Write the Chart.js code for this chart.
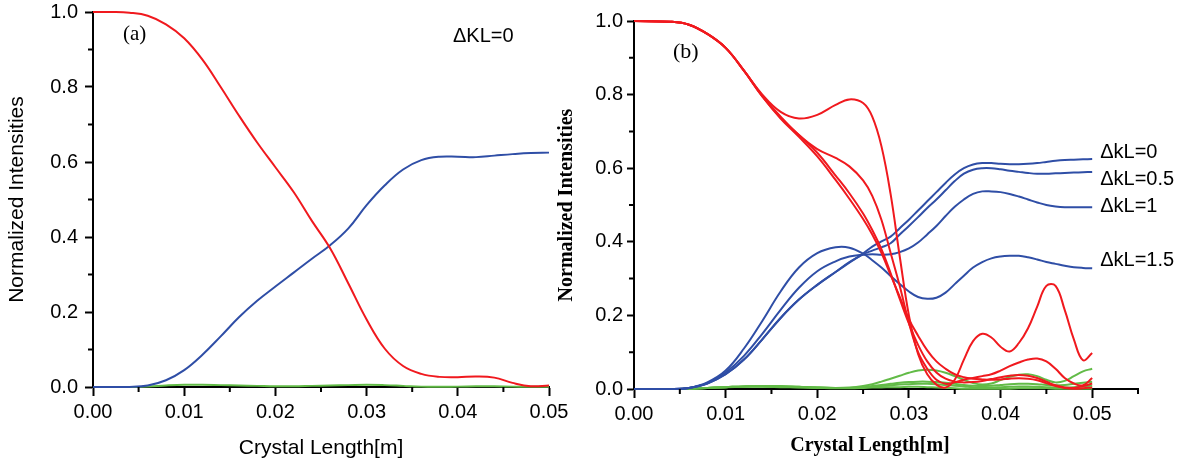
<!DOCTYPE html>
<html lang="en">
<head>
<meta charset="UTF-8">
<title>Normalized Intensities vs Crystal Length</title>
<script src="https://cdn.jsdelivr.net/npm/chart.js"></script>
<style>
  body { margin: 0; background: #fff; }
  #wrap { position: relative; width: 1190px; height: 466px; }
  canvas { position: absolute; top: 0; }
  #chartA { left: 0; }
  #chartB { left: 545px; }
</style>
</head>
<body>
<div id="wrap">
  <canvas id="chartA" width="600" height="466"></canvas>
  <canvas id="chartB" width="645" height="466"></canvas>
</div>
<script>
// ---- panel (a): dKL = 0 ----
const xA = [0, 0.002, 0.004, 0.006, 0.008, 0.010, 0.012, 0.014, 0.016, 0.018, 0.020, 0.022, 0.024,
            0.026, 0.028, 0.030, 0.032, 0.034, 0.036, 0.038, 0.040, 0.042, 0.044, 0.046, 0.048, 0.050];
const redA = [1.0, 1.0, 0.998, 0.99, 0.967, 0.93, 0.873, 0.80, 0.724, 0.652, 0.586, 0.52, 0.443,
              0.37, 0.276, 0.18, 0.102, 0.056, 0.035, 0.027, 0.026, 0.028, 0.025, 0.011, 0.002, 0.004];
const blueA = [0, 0, 0, 0.004, 0.018, 0.045, 0.086, 0.135, 0.186, 0.23, 0.268, 0.305, 0.342,
               0.378, 0.423, 0.485, 0.538, 0.58, 0.605, 0.614, 0.614, 0.613, 0.617, 0.621, 0.624, 0.625];
const greenA = [0, 0, 0, 0.001, 0.004, 0.006, 0.006, 0.005, 0.004, 0.003, 0.002, 0.002, 0.003,
                0.004, 0.005, 0.006, 0.005, 0.003, 0.001, 0.001, 0.001, 0.002, 0.002, 0.001, 0.001, 0.001];

// ---- panel (b): dkL = 0, 0.5, 1, 1.5 ----
const xB = [0, 0.004, 0.006, 0.008, 0.010, 0.012, 0.014, 0.016, 0.018, 0.020, 0.022, 0.0235, 0.025,
            0.026, 0.027, 0.028, 0.029, 0.030, 0.031, 0.032, 0.033, 0.034, 0.035, 0.036, 0.037, 0.038,
            0.039, 0.040, 0.041, 0.042, 0.043, 0.044, 0.045, 0.046, 0.047, 0.048, 0.049, 0.050];
const red0 = [1.0, 0.998, 0.99, 0.965, 0.927, 0.865, 0.795, 0.735, 0.685, 0.632, 0.568, 0.517, 0.462,
              0.42, 0.37, 0.31, 0.25, 0.19, 0.145, 0.105, 0.075, 0.055, 0.04, 0.032, 0.028, 0.026,
              0.025, 0.026, 0.028, 0.029, 0.028, 0.024, 0.016, 0.008, 0.003, 0.001, 0.002, 0.004];
const red05 = [1.0, 0.998, 0.99, 0.965, 0.927, 0.865, 0.795, 0.737, 0.69, 0.642, 0.58, 0.532, 0.477,
               0.432, 0.38, 0.315, 0.245, 0.178, 0.12, 0.075, 0.045, 0.028, 0.02, 0.018, 0.019, 0.022,
               0.027, 0.032, 0.036, 0.038, 0.036, 0.03, 0.02, 0.01, 0.004, 0.003, 0.008, 0.015];
const red1 = [1.0, 0.998, 0.99, 0.965, 0.927, 0.865, 0.797, 0.74, 0.69, 0.652, 0.628, 0.605, 0.567,
              0.525, 0.46, 0.37, 0.28, 0.18, 0.10, 0.055, 0.025, 0.014, 0.018, 0.025, 0.03, 0.035,
              0.04, 0.05, 0.062, 0.072, 0.08, 0.083, 0.075, 0.055, 0.03, 0.015, 0.01, 0.03];
const red15 = [1.0, 0.998, 0.99, 0.965, 0.927, 0.865, 0.8, 0.753, 0.735, 0.745, 0.772, 0.787, 0.777,
               0.74, 0.66, 0.53, 0.36, 0.2, 0.095, 0.04, 0.012, 0.004, 0.025, 0.08, 0.13, 0.15,
               0.14, 0.115, 0.102, 0.125, 0.165, 0.224, 0.28, 0.28, 0.215, 0.135, 0.078, 0.098];
const blue0 = [0, 0, 0.003, 0.015, 0.04, 0.08, 0.135, 0.193, 0.243, 0.283, 0.318, 0.343, 0.368,
               0.387, 0.401, 0.414, 0.437, 0.46, 0.485, 0.51, 0.535, 0.56, 0.583, 0.6, 0.61, 0.614,
               0.614, 0.612, 0.611, 0.611, 0.612, 0.614, 0.617, 0.62, 0.622, 0.623, 0.624, 0.625];
const blue05 = [0, 0, 0.003, 0.015, 0.04, 0.08, 0.135, 0.193, 0.243, 0.283, 0.318, 0.345, 0.366,
                0.376, 0.385, 0.396, 0.42, 0.443, 0.467, 0.492, 0.515, 0.54, 0.565, 0.585, 0.596, 0.6,
                0.6, 0.597, 0.593, 0.59, 0.587, 0.585, 0.585, 0.586, 0.587, 0.588, 0.589, 0.59];
const blue1 = [0, 0, 0.003, 0.016, 0.045, 0.09, 0.15, 0.215, 0.275, 0.32, 0.347, 0.36, 0.365,
               0.366, 0.365, 0.366, 0.372, 0.382, 0.398, 0.42, 0.443, 0.47, 0.495, 0.515, 0.53, 0.537,
               0.537, 0.535, 0.53, 0.523, 0.515, 0.507, 0.5, 0.496, 0.494, 0.494, 0.494, 0.494];
const blue15 = [0, 0, 0.003, 0.018, 0.05, 0.11, 0.185, 0.265, 0.33, 0.369, 0.385, 0.384, 0.368,
                0.35, 0.33, 0.307, 0.285, 0.265, 0.25, 0.245, 0.248, 0.262, 0.285, 0.308, 0.33, 0.345,
                0.355, 0.36, 0.362, 0.362, 0.358, 0.352, 0.345, 0.34, 0.335, 0.331, 0.329, 0.328];
const green0 = [0, 0, 0.001, 0.003, 0.005, 0.006, 0.006, 0.005, 0.004, 0.003, 0.002, 0.002, 0.003,
                0.004, 0.004, 0.005, 0.005, 0.006, 0.006, 0.005, 0.004, 0.003, 0.002, 0.001, 0.001, 0.001,
                0.001, 0.001, 0.001, 0.002, 0.002, 0.002, 0.002, 0.001, 0.001, 0.001, 0.001, 0.001];
const green05 = [0, 0, 0.001, 0.003, 0.005, 0.007, 0.007, 0.006, 0.005, 0.004, 0.003, 0.003, 0.004,
                 0.006, 0.008, 0.010, 0.012, 0.013, 0.014, 0.014, 0.013, 0.011, 0.009, 0.007, 0.005, 0.004,
                 0.004, 0.005, 0.006, 0.007, 0.007, 0.006, 0.005, 0.004, 0.004, 0.005, 0.007, 0.009];
const green1 = [0, 0, 0.001, 0.003, 0.005, 0.007, 0.008, 0.007, 0.006, 0.004, 0.003, 0.003, 0.005,
                0.008, 0.011, 0.014, 0.017, 0.019, 0.020, 0.020, 0.019, 0.017, 0.014, 0.011, 0.009, 0.008,
                0.009, 0.011, 0.013, 0.014, 0.014, 0.013, 0.011, 0.010, 0.011, 0.014, 0.017, 0.020];
const green15 = [0, 0, 0.001, 0.003, 0.005, 0.007, 0.008, 0.008, 0.006, 0.004, 0.003, 0.004, 0.008,
                 0.013, 0.020, 0.028, 0.036, 0.044, 0.050, 0.052, 0.050, 0.044, 0.035, 0.025, 0.016, 0.012,
                 0.015, 0.024, 0.033, 0.039, 0.040, 0.035, 0.025, 0.018, 0.022, 0.035, 0.048, 0.055];

const yTicks = [0, 0.2, 0.4, 0.6, 0.8, 1.0];
const xTicks = [0, 0.01, 0.02, 0.03, 0.04, 0.05];
const labelsB = ['\u0394kL=0', '\u0394kL=0.5', '\u0394kL=1', '\u0394kL=1.5'];

const RED = '#f0191e', BLUE = '#2f4ea6', GREEN = '#62bb47';
const SANS = '"Liberation Sans", Arial, sans-serif';
const SERIF = '"Liberation Serif", "Times New Roman", serif';

function pts(xs, ys) { return xs.map((x, i) => ({ x: x, y: ys[i] })); }
function line(xs, ys, color) {
  return { data: pts(xs, ys), borderColor: color, borderWidth: 2, pointRadius: 0,
           tension: 0.4, clip: { left: 5, top: 5, right: 5, bottom: 1 }, fill: false };
}

// short minor ticks between the labelled ones
const minorTicks = {
  id: 'minorTicks',
  afterDraw(chart, args, opts) {
    const { ctx, scales: { x, y } } = chart;
    ctx.save();
    ctx.strokeStyle = '#000';
    ctx.lineWidth = 2;
    ctx.beginPath();
    opts.x.forEach(v => { const p = x.getPixelForValue(v); ctx.moveTo(p, x.top); ctx.lineTo(p, x.top + 5); });
    opts.y.forEach(v => { const p = y.getPixelForValue(v); ctx.moveTo(y.right, p); ctx.lineTo(y.right - 5, p); });
    ctx.stroke();
    ctx.restore();
  }
};

function baseOptions(xMax, padding, yWidth, xHeight, tickLen, tickPad, sansTitles) {
  return {
    responsive: false,
    animation: false,
    layout: { padding: padding },
    plugins: { legend: { display: false }, tooltip: { enabled: false } },
    scales: {
      x: {
        type: 'linear', min: 0, max: xMax,
        afterFit: s => { s.height = xHeight; s.paddingLeft = 0; s.paddingRight = 0; },
        afterBuildTicks: s => { s.ticks = xTicks.map(v => ({ value: v })); },
        border: { display: true, color: '#000', width: 2 },
        grid: { drawOnChartArea: false, drawTicks: true, tickLength: 9, tickColor: '#000', tickWidth: 2 },
        ticks: { color: '#000', padding: 4, font: { family: SANS, size: 20 }, maxRotation: 0,
                 callback: v => v.toFixed(2) },
        title: sansTitles
          ? { display: true, text: 'Crystal Length[m]', color: '#000',
              font: { family: SANS, size: 21 }, padding: { top: 0, bottom: 5 } }
          : { display: false }
      },
      y: {
        type: 'linear', min: 0, max: 1,
        afterFit: s => { s.width = yWidth; s.paddingTop = 0; s.paddingBottom = 0; },
        afterBuildTicks: s => { s.ticks = yTicks.map(v => ({ value: v })); },
        border: { display: true, color: '#000', width: 2 },
        grid: { drawOnChartArea: false, drawTicks: true, tickLength: tickLen, tickColor: '#000', tickWidth: 2 },
        ticks: { color: '#000', padding: tickPad, font: { family: SANS, size: 20 },
                 callback: v => v.toFixed(1) },
        title: sansTitles
          ? { display: true, text: 'Normalized Intensities', color: '#000',
              font: { family: SANS, size: 21 }, padding: { top: 5, bottom: 0 } }
          : { display: true, text: 'Normalized Intensities', color: '#000',
              font: { family: SERIF, size: 20, weight: 'bold' }, padding: { top: 10, bottom: 0 } }
      }
    }
  };
}

// ---- chart (a) ----
const optsA = baseOptions(0.05, { left: 0, top: 12, right: 51, bottom: 0 }, 93, 79, 8, 7, true);
optsA.plugins.minorTicks = { x: [0.005, 0.015, 0.025, 0.035, 0.045], y: [0.1, 0.3, 0.5, 0.7, 0.9] };
new Chart(document.getElementById('chartA'), {
  type: 'line',
  data: { datasets: [line(xA, redA, RED), line(xA, blueA, BLUE), line(xA, greenA, GREEN)] },
  options: optsA,
  plugins: [minorTicks, {
    id: 'textA',
    afterDraw(chart) {
      const { ctx, chartArea: a } = chart;
      ctx.save();
      ctx.fillStyle = '#000';
      ctx.textBaseline = 'alphabetic';
      ctx.font = '21px ' + SERIF;
      ctx.fillText('(a)', a.left + 30, a.top + 28);
      ctx.font = '20px ' + SANS;
      ctx.fillText('\u0394KL=0', a.left + 360, a.top + 30);
      ctx.restore();
    }
  }]
});

// ---- chart (b) ----
const optsB = baseOptions(0.055, { left: 0, top: 21, right: 52, bottom: 0 }, 89, 77, 7, 4, false);
optsB.plugins.minorTicks = { x: [0.005, 0.015, 0.025, 0.035, 0.045, 0.055], y: [0.1, 0.3, 0.5, 0.7, 0.9] };
new Chart(document.getElementById('chartB'), {
  type: 'line',
  data: {
    datasets: [
      line(xB, red15, RED), line(xB, red1, RED), line(xB, red05, RED), line(xB, red0, RED),
      line(xB, blue0, BLUE), line(xB, blue05, BLUE), line(xB, blue1, BLUE), line(xB, blue15, BLUE),
      line(xB, green0, GREEN), line(xB, green05, GREEN), line(xB, green1, GREEN), line(xB, green15, GREEN)
    ]
  },
  options: optsB,
  plugins: [minorTicks, {
    id: 'textB',
    afterDraw(chart) {
      const { ctx, chartArea: a } = chart;
      ctx.save();
      ctx.fillStyle = '#000';
      ctx.textBaseline = 'alphabetic';
      ctx.font = '22px ' + SERIF;
      ctx.fillText('(b)', a.left + 39, a.top + 37);
      ctx.font = '20px ' + SANS;
      const lx = chart.scales.x.getPixelForValue(0.05) + 8;
      [137, 164, 191, 245].forEach((dy, i) => ctx.fillText(labelsB[i], lx, a.top + dy));
      ctx.font = 'bold 20px ' + SERIF;
      ctx.textAlign = 'center';
      ctx.fillText('Crystal Length[m]', a.left + 236, 451);
      ctx.restore();
    }
  }]
});
</script>
</body>
</html>
